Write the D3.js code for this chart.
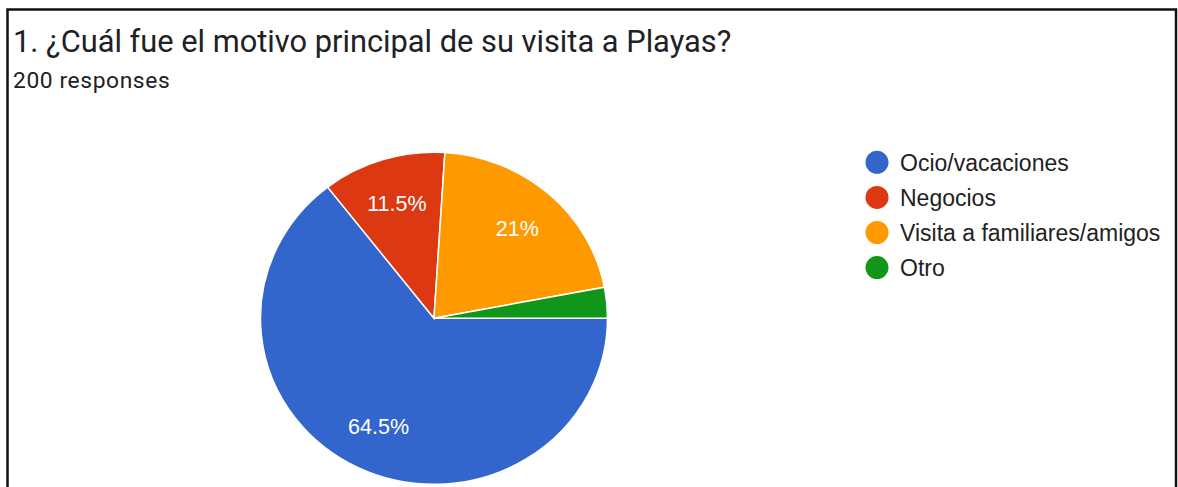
<!DOCTYPE html>
<html>
<head>
<meta charset="utf-8">
<script src="https://cdn.jsdelivr.net/npm/d3@7"></script>
<style>
  body { margin: 0; background: #fff; }
  svg { display: block; }
</style>
</head>
<body>
<div id="chart"></div>
<script>
// data
let categories = ['Ocio/vacaciones', 'Negocios', 'Visita a familiares/amigos', 'Otro'];
let counts = [129, 23, 42, 6];
let colors = ['#3366cc', '#dc3912', '#ff9900', '#109618'];
let title = '1. ¿Cuál fue el motivo principal de su visita a Playas?';
let subtitle = '200 responses';

let width = 1178;
let height = 487;

let svg = d3.select('#chart').append('svg')
    .attr('width', width)
    .attr('height', height);

// frame
svg.append('path')
    .attr('d', 'M7.5,' + height + ' V9.5 H1176 V' + height)
    .attr('fill', 'none')
    .attr('stroke', '#111')
    .attr('stroke-width', 2.5);

svg.append('text')
    .attr('x', 13)
    .attr('y', 52)
    .attr('font-family', 'Roboto')
    .attr('font-size', 30.8)
    .attr('fill', '#202124')
    .text(title);

svg.append('text')
    .attr('x', 13)
    .attr('y', 88)
    .attr('font-family', 'Roboto')
    .attr('font-size', 22.8)
    .attr('letter-spacing', 0.6)
    .attr('fill', '#202124')
    .text(subtitle);

//-----Pie-------
let cx = 434, cy = 318.3;
let radius = 173.5;
let squash = 0.957; // picture is a bit wider than tall

let total = d3.sum(counts);
let pie = d3.pie().sort(null).startAngle(Math.PI / 2).endAngle(Math.PI / 2 + 2 * Math.PI);
let arcs = pie(counts);
let arc = d3.arc().innerRadius(0).outerRadius(radius);
let labelArc = d3.arc().innerRadius(126).outerRadius(126);

let pieGroup = svg.append('g')
    .attr('transform', 'translate(' + cx + ',' + cy + ') scale(1,' + squash + ')');

pieGroup.selectAll('path')
    .data(arcs)
    .enter().append('path')
        .attr('d', arc)
        .attr('fill', function(d, i) { return colors[i] })
        .attr('stroke', '#fff')
        .attr('stroke-width', 1.5);

let fmt = function(v) { return (+(v / total * 100).toFixed(1)) + '%' };

svg.append('g').selectAll('text')
    .data(arcs.filter(function(d) { return d.value / total > 0.05 }))
    .enter().append('text')
        .attr('x', function(d) { return cx + labelArc.centroid(d)[0] })
        .attr('y', function(d) { return cy + labelArc.centroid(d)[1] * squash })
        .attr('dy', '0.36em')
        .attr('text-anchor', 'middle')
        .attr('font-family', 'Liberation Sans, Arial')
        .attr('font-size', 21.5)
        .attr('fill', '#fff')
        .text(function(d) { return fmt(d.value) });

//-----Legend-------
let legend = svg.append('g').attr('transform', 'translate(877,162.3)');
let row = 35.1;

legend.selectAll('circle')
    .data(categories)
    .enter().append('circle')
        .attr('cx', 0)
        .attr('cy', function(d, i) { return i * row })
        .attr('r', 11.5)
        .attr('fill', function(d, i) { return colors[i] });

legend.selectAll('text')
    .data(categories)
    .enter().append('text')
        .attr('x', 23)
        .attr('y', function(d, i) { return i * row })
        .attr('dy', '0.36em')
        .attr('font-family', 'Liberation Sans, Arial')
        .attr('font-size', 23)
        .attr('fill', '#222')
        .text(function(d) { return d });
</script>
</body>
</html>
